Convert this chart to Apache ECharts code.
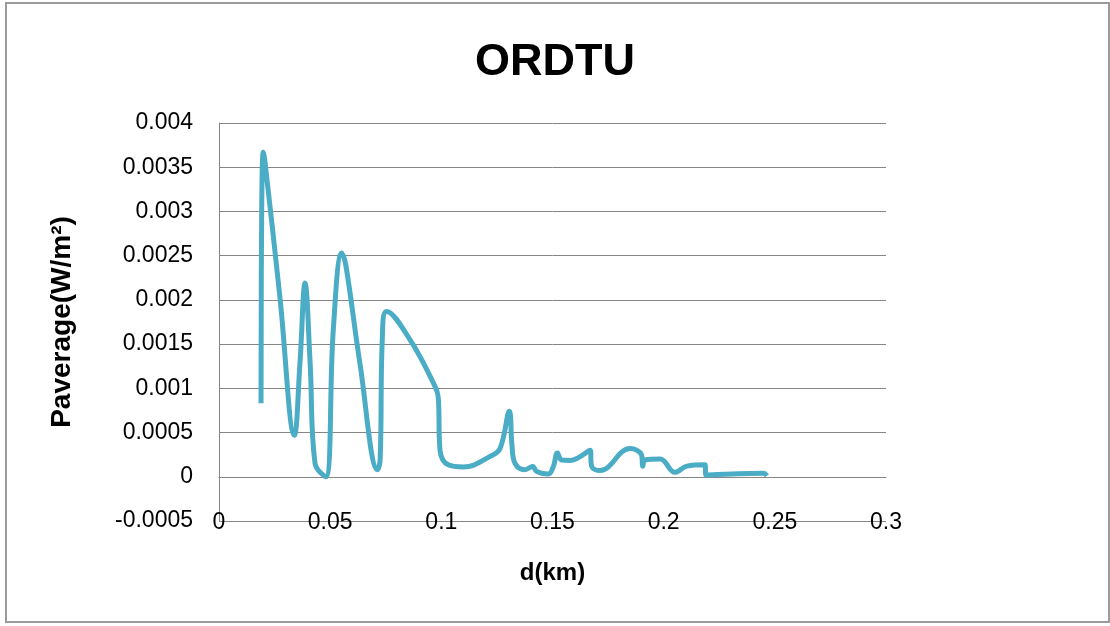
<!DOCTYPE html>
<html>
<head>
<meta charset="utf-8">
<script src="https://cdn.jsdelivr.net/npm/echarts@6/dist/echarts.min.js"></script>
<style>
  html, body { margin: 0; padding: 0; background: #fff; }
  #chart { width: 1110px; height: 626px; }
</style>
</head>
<body>
<div id="chart"></div>
<script>
// Distance along the route (km)
const distanceKm = [
  0.0189, 0.0192, 0.0199, 0.0205, 0.0274, 0.0339, 0.0364, 0.0387, 0.0410, 0.0432,
  0.0480, 0.0514, 0.0552, 0.0570, 0.0634, 0.0714, 0.0725, 0.0735, 0.0754, 0.0859,
  0.0972, 0.0986, 0.0994, 0.1031, 0.1100, 0.1219, 0.1264, 0.1306, 0.1317, 0.1331,
  0.1376, 0.1411, 0.1429, 0.1481, 0.1504, 0.1522, 0.1541, 0.1579, 0.1669, 0.1676,
  0.1714, 0.1849, 0.1900, 0.1906, 0.1916, 0.1984, 0.2051, 0.2104, 0.2186, 0.2190,
  0.2449, 0.2464
];
// Average power density (W/m²)
const pAverage = [
  0.00083, 0.00300, 0.00367, 0.00360, 0.00203, 0.00047, 0.00128, 0.00219, 0.00128, 0.00015,
  0.00000, 0.00166, 0.00253, 0.00240, 0.00128, 0.00008, 0.00020, 0.00160, 0.00187, 0.00155,
  0.00102, 0.00090, 0.00030, 0.000135, 0.00011, 0.00023, 0.00032, 0.00074, 0.00038, 0.000155,
  0.00008, 0.000117, 0.00006, 0.00003, 0.000117, 0.00027, 0.00019, 0.000185, 0.00030, 0.00012,
  0.00007, 0.00032, 0.00025, 0.00012, 0.00019, 0.00020, 0.00005, 0.00012, 0.000135, 0.00002,
  0.00004, 0.00001
];
// Axis ranges and tick steps
const xTicks = { min: 0, max: 0.3, step: 0.05 };
const yTicks = { min: -0.0005, max: 0.004, step: 0.0005 };

const points = distanceKm.map((d, i) => [d, pAverage[i]]);
const fmt = v => String(+v.toFixed(4));
const font = '"Liberation Sans", Arial, sans-serif';

const chart = echarts.init(document.getElementById('chart'), null, { renderer: 'canvas' });
chart.setOption({
  animation: false,
  backgroundColor: '#ffffff',
  graphic: [{
    type: 'rect',
    shape: { x: 6, y: 3, width: 1103, height: 619 },
    style: { fill: 'none', stroke: '#9b9b9b', lineWidth: 2 }
  }],
  title: {
    text: 'ORDTU',
    left: 'center',
    top: 35,
    textStyle: { fontFamily: font, fontWeight: 'bold', fontSize: 45, color: '#000' }
  },
  grid: { left: 219, right: 224, top: 123, bottom: 105, containLabel: false },
  xAxis: {
    type: 'value',
    min: xTicks.min, max: xTicks.max, interval: xTicks.step,
    name: 'd(km)',
    nameLocation: 'middle',
    nameGap: 40,
    nameTextStyle: { fontFamily: font, fontWeight: 'bold', fontSize: 24, color: '#000' },
    axisLine: { show: true, lineStyle: { color: '#868686', width: 1 } },
    axisTick: { show: false },
    splitLine: { show: false },
    axisLabel: { margin: -10, fontFamily: font, fontSize: 23, color: '#000', formatter: fmt }
  },
  yAxis: {
    type: 'value',
    min: yTicks.min, max: yTicks.max, interval: yTicks.step,
    name: 'Paverage(W/m²)',
    nameLocation: 'middle',
    nameGap: 143,
    nameRotate: 90,
    nameTextStyle: { fontFamily: font, fontWeight: 'bold', fontSize: 28, color: '#000' },
    axisLine: { show: true, lineStyle: { color: '#868686', width: 1 } },
    axisTick: { show: false },
    splitLine: { show: true, lineStyle: { color: '#868686', width: 1 } },
    axisLabel: { margin: 26, fontFamily: font, fontSize: 23, color: '#000', formatter: fmt }
  },
  series: [{
    type: 'line',
    data: points,
    smooth: 0.4,
    showSymbol: false,
    lineStyle: { color: '#4bacc6', width: 5 },
    itemStyle: { color: '#4bacc6' }
  }]
});
</script>
</body>
</html>
